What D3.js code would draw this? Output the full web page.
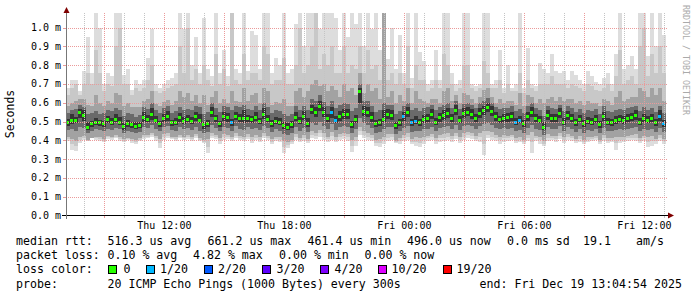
<!DOCTYPE html>
<html>
<head>
<meta charset="utf-8">
<script src="https://cdn.jsdelivr.net/npm/d3@7"></script>
<style>
  body { margin: 0; background: #fff; }
  svg { display: block; }
  text { font-family: "DejaVu Sans Mono", monospace; fill: #000; }
</style>
</head>
<body>
<svg id="chart" width="697" height="297"></svg>
<script>
// smokeping style graph, 30 hours, one column = 12 minutes
// all rtt values in microseconds

const startTime = new Date(2025, 11, 18, 7, 5, 0);
const stepMinutes = 12;

const medianUs = [
  495, 510, 510, 550, 535, 470, 490, 500, 495, 490,
  512, 500, 515, 500, 475, 490, 485, 478, 482, 522,
  512, 540, 510, 490, 518, 528, 495, 500, 525, 505,
  515, 505, 527, 510, 485, 490, 549, 518, 490, 527,
  522, 495, 530, 518, 520, 518, 512, 525, 503, 540,
  515, 490, 505, 500, 480, 473, 485, 525, 505, 530,
  490, 565, 550, 580, 550, 518, 550, 510, 530, 540,
  540, 485, 512, 661, 558, 550, 525, 490, 497, 515,
  540, 535, 482, 498, 527, 550, 495, 505, 495, 512,
  520, 540, 500, 522, 535, 545, 520, 562, 510, 545,
  552, 540, 518, 545, 560, 575, 555, 527, 512, 520,
  522, 527, 500, 510, 490, 527, 549, 520, 510, 473,
  535, 520, 518, 545, 500, 535, 520, 495, 515, 490,
  505, 500, 513, 485, 527, 500, 497, 509, 515, 509,
  520, 525, 535, 500, 520, 510, 518, 495, 530, 490
];

// columns where 1 of 20 pings was lost, all others 0
const lossCols = [41, 66, 67, 84, 86, 87, 112, 113, 148, 149];

// smoke bands, from outer (min..max) to the pings next to the median
const smokeMax = [
  680, 720, 720, 660, 770, 950, 760, 1100, 1000, 700,
  760, 740, 1100, 1100, 750, 780, 670, 720, 700, 720,
  840, 990, 700, 680, 700, 720, 730, 760, 1100, 990,
  1100, 800, 950, 760, 1050, 780, 740, 1100, 760, 880,
  740, 1100, 780, 760, 1100, 770, 980, 960, 780, 1100,
  1100, 760, 840, 800, 1100, 760, 780, 1020, 1100, 900,
  1080, 1100, 1100, 990, 1100, 1080, 1080, 1050, 880, 1100,
  950, 1080, 1020, 1100, 900, 1100, 990, 1100, 880, 1100,
  830, 1000, 780, 960, 760, 1100, 730, 1100, 870, 820,
  700, 720, 880, 720, 1100, 1100, 760, 700, 720, 1100,
  1100, 700, 690, 700, 1100, 1080, 700, 720, 880, 680,
  800, 680, 700, 1100, 680, 890, 700, 690, 810, 780,
  760, 860, 770, 760, 770, 720, 770, 750, 720, 700,
  770, 740, 710, 700, 730, 760, 700, 860, 1100, 780,
  800, 850, 780, 1100, 1100, 850, 1100, 900, 1100, 960
];
const smokeMin = [
  395, 350, 345, 385, 400, 395, 410, 400, 395, 390,
  405, 400, 410, 395, 390, 400, 385, 380, 395, 405,
  410, 420, 395, 360, 400, 410, 405, 395, 410, 400,
  405, 395, 410, 395, 385, 330, 410, 405, 380, 400,
  405, 395, 410, 400, 395, 405, 385, 400, 390, 410,
  400, 380, 395, 390, 335, 360, 380, 400, 390, 395,
  385, 410, 405, 420, 400, 390, 400, 390, 400, 405,
  395, 340, 370, 430, 410, 400, 395, 370, 365, 380,
  395, 400, 385, 380, 395, 400, 380, 370, 365, 380,
  395, 400, 380, 390, 395, 400, 390, 405, 385, 400,
  410, 405, 395, 390, 320, 410, 400, 395, 380, 390,
  395, 400, 385, 390, 380, 395, 335, 395, 380, 370,
  395, 400, 390, 405, 385, 400, 395, 385, 390, 380,
  390, 395, 400, 380, 395, 385, 390, 350, 385, 390,
  395, 400, 395, 385, 395, 365, 370, 380, 395, 380
];
const smokeOuterHi = [
  640, 680, 700, 640, 700, 760, 700, 880, 760, 660,
  700, 690, 900, 1000, 700, 700, 640, 680, 660, 680,
  720, 800, 660, 650, 660, 680, 690, 700, 900, 760,
  1000, 720, 780, 700, 800, 720, 690, 860, 700, 780,
  690, 1100, 720, 700, 860, 720, 760, 760, 720, 900,
  860, 700, 720, 720, 840, 700, 700, 800, 1000, 760,
  800, 900, 1100, 780, 860, 800, 900, 760, 760, 900,
  760, 800, 780, 900, 760, 880, 780, 800, 720, 1100,
  720, 760, 700, 760, 700, 900, 680, 800, 720, 720,
  660, 680, 720, 680, 860, 800, 700, 660, 680, 800,
  800, 680, 660, 680, 820, 760, 680, 680, 720, 650,
  700, 660, 660, 760, 650, 720, 680, 660, 700, 700,
  700, 740, 700, 700, 700, 680, 700, 690, 680, 660,
  700, 690, 670, 660, 680, 700, 660, 740, 880, 700,
  720, 740, 700, 900, 1000, 740, 860, 760, 900, 760
];
const smokeOuterLo = [
  405, 380, 372, 402, 412, 398, 410, 410, 405, 398,
  415, 410, 420, 408, 398, 406, 396, 390, 402, 418,
  420, 430, 410, 385, 416, 425, 412, 405, 420, 410,
  418, 406, 422, 402, 392, 365, 425, 416, 396, 416,
  418, 405, 425, 412, 406, 418, 402, 414, 404, 425,
  412, 392, 408, 402, 365, 375, 392, 416, 402, 412,
  396, 430, 422, 438, 420, 405, 422, 404, 416, 422,
  415, 370, 395, 450, 430, 420, 412, 385, 385, 400,
  414, 416, 392, 395, 412, 420, 392, 392, 388, 400,
  410, 418, 396, 410, 414, 420, 408, 422, 400, 420,
  428, 422, 408, 415, 380, 430, 420, 412, 400, 410,
  410, 415, 398, 404, 390, 412, 390, 410, 400, 382,
  414, 412, 406, 422, 400, 416, 410, 396, 406, 390,
  404, 405, 410, 392, 412, 398, 400, 384, 402, 404,
  410, 414, 414, 398, 410, 392, 396, 394, 412, 394
];
const smokeMidHi = [
  580, 600, 610, 620, 620, 590, 585, 640, 600, 580,
  610, 600, 650, 640, 580, 600, 575, 575, 575, 610,
  620, 660, 595, 580, 605, 615, 590, 610, 660, 630,
  650, 610, 640, 600, 640, 590, 630, 660, 600, 620,
  600, 660, 610, 605, 680, 610, 640, 650, 600, 680,
  660, 590, 605, 600, 620, 580, 585, 660, 680, 630,
  660, 700, 720, 690, 700, 660, 690, 670, 630, 700,
  660, 680, 640, 760, 650, 700, 660, 680, 620, 1100,
  630, 660, 600, 640, 610, 680, 600, 660, 620, 610,
  600, 620, 620, 600, 660, 680, 610, 640, 600, 650,
  640, 620, 600, 630, 670, 680, 630, 600, 620, 600,
  610, 610, 590, 650, 580, 640, 630, 600, 620, 600,
  620, 630, 610, 630, 610, 620, 620, 600, 610, 590,
  610, 600, 600, 580, 620, 610, 590, 630, 660, 610,
  620, 630, 630, 680, 660, 630, 680, 640, 680, 610
];
const smokeMidLo = [
  415, 405, 395, 420, 425, 400, 410, 420, 415, 405,
  425, 418, 430, 420, 405, 412, 408, 400, 410, 430,
  428, 440, 422, 408, 432, 438, 420, 415, 430, 420,
  430, 418, 432, 410, 400, 405, 440, 428, 412, 432,
  430, 415, 438, 425, 418, 432, 420, 428, 418, 440,
  425, 405, 420, 415, 395, 390, 402, 432, 412, 430,
  408, 450, 440, 455, 440, 420, 445, 418, 432, 438,
  435, 400, 420, 470, 450, 440, 430, 400, 405, 420,
  432, 432, 398, 410, 428, 440, 405, 415, 410, 420,
  425, 435, 412, 428, 432, 440, 425, 440, 415, 438,
  445, 440, 422, 440, 448, 452, 442, 428, 420, 428,
  425, 430, 412, 418, 400, 430, 442, 425, 418, 395,
  432, 425, 422, 438, 415, 432, 425, 408, 422, 402,
  418, 415, 422, 402, 428, 412, 410, 418, 420, 418,
  425, 428, 432, 412, 425, 418, 422, 408, 430, 408
];
const smokeCoreHi = [
  545, 560, 565, 590, 575, 540, 545, 555, 540, 545,
  560, 555, 570, 560, 530, 545, 540, 525, 535, 575,
  565, 600, 560, 545, 570, 585, 545, 555, 575, 560,
  565, 560, 585, 575, 540, 550, 600, 570, 550, 580,
  575, 560, 580, 575, 590, 565, 560, 585, 560, 600,
  575, 545, 560, 555, 540, 530, 540, 580, 560, 585,
  560, 620, 610, 640, 605, 580, 610, 570, 590, 600,
  595, 555, 570, 700, 610, 610, 580, 550, 560, 600,
  590, 590, 540, 555, 580, 600, 560, 570, 555, 570,
  575, 590, 560, 575, 590, 600, 570, 610, 565, 595,
  600, 590, 570, 600, 610, 625, 600, 575, 565, 570,
  570, 580, 555, 565, 545, 580, 600, 570, 560, 530,
  585, 570, 565, 590, 555, 580, 570, 550, 565, 545,
  560, 555, 565, 540, 580, 555, 550, 560, 565, 560,
  570, 575, 585, 555, 575, 560, 570, 550, 585, 545
];
const smokeCoreLo = [
  455, 460, 448, 470, 465, 440, 452, 458, 455, 450,
  462, 455, 468, 458, 440, 450, 446, 440, 445, 470,
  465, 480, 462, 448, 470, 475, 455, 452, 470, 460,
  468, 455, 472, 450, 440, 445, 480, 465, 450, 470,
  468, 452, 475, 462, 455, 470, 458, 466, 455, 478,
  465, 445, 458, 452, 435, 430, 440, 470, 450, 468,
  445, 490, 480, 495, 478, 460, 485, 455, 470, 475,
  472, 440, 458, 520, 490, 480, 468, 440, 445, 458,
  470, 470, 435, 448, 465, 478, 445, 452, 450, 458,
  462, 472, 450, 465, 470, 475, 462, 480, 455, 475,
  482, 475, 460, 478, 485, 490, 480, 465, 458, 465,
  462, 468, 450, 455, 440, 468, 480, 462, 455, 430,
  470, 462, 460, 475, 452, 470, 462, 445, 460, 440,
  455, 452, 460, 440, 465, 450, 448, 455, 460, 455,
  462, 465, 470, 450, 462, 455, 460, 445, 468, 445
];
const smokeInnerHi = [
  515, 540, 525, 565, 560, 500, 505, 520, 510, 505,
  530, 520, 540, 525, 490, 510, 500, 495, 500, 550,
  535, 570, 530, 505, 540, 555, 510, 520, 545, 525,
  535, 525, 550, 540, 500, 510, 575, 535, 505, 550,
  545, 515, 550, 540, 560, 535, 530, 550, 520, 570,
  535, 510, 525, 520, 500, 490, 505, 550, 525, 555,
  520, 590, 575, 610, 575, 540, 575, 530, 555, 565,
  565, 505, 535, 680, 585, 575, 550, 510, 515, 560,
  565, 560, 500, 515, 550, 575, 515, 530, 515, 535,
  540, 565, 520, 545, 560, 570, 540, 590, 530, 570,
  575, 565, 540, 570, 585, 600, 580, 550, 530, 540,
  545, 550, 520, 530, 510, 550, 575, 540, 530, 495,
  560, 540, 540, 570, 520, 555, 540, 515, 535, 510,
  525, 520, 535, 505, 550, 520, 515, 530, 535, 530,
  540, 545, 560, 520, 540, 530, 540, 515, 560, 510
];
const smokeInnerLo = [
  478, 485, 490, 520, 505, 455, 470, 480, 475, 472,
  490, 480, 495, 482, 455, 470, 465, 462, 465, 500,
  495, 510, 490, 470, 500, 505, 475, 480, 500, 485,
  495, 485, 505, 490, 462, 470, 525, 500, 470, 505,
  500, 475, 510, 495, 490, 500, 490, 505, 485, 515,
  495, 470, 485, 480, 460, 455, 465, 505, 485, 510,
  470, 540, 525, 555, 525, 495, 520, 490, 505, 515,
  515, 465, 490, 600, 530, 525, 500, 470, 478, 495,
  515, 510, 462, 478, 505, 525, 475, 485, 475, 490,
  500, 515, 480, 500, 510, 520, 500, 535, 490, 520,
  530, 515, 495, 520, 535, 550, 530, 505, 490, 500,
  500, 505, 480, 490, 470, 505, 525, 500, 490, 455,
  510, 500, 495, 520, 480, 510, 500, 475, 495, 470,
  485, 480, 490, 465, 505, 480, 477, 488, 495, 488,
  500, 505, 510, 480, 500, 490, 495, 475, 505, 470
];

const yTicks = [0, 0.1, 0.2, 0.3, 0.4, 0.5, 0.6, 0.7, 0.8, 0.9, 1.0];

const lossLabels = ["0", "1/20", "2/20", "3/20", "4/20", "10/20", "19/20"];
const lossColors = ["#26ff00", "#00b8ff", "#0059ff", "#5e00ff", "#7e00ff", "#dd00ff", "#ff0000"];

const legendRtt = ["516.3 us avg", "661.2 us max", "461.4 us min", "496.0 us now", "0.0 ms sd", "19.1", "am/s"];
const legendLoss = ["0.10 % avg", "4.82 % max", "0.00 % min", "0.00 % now"];
const probeText = "20 ICMP Echo Pings (1000 Bytes) every 300s";
const endText = "end: Fri Dec 19 13:04:54 2025";

// ---------------------------------------------------------------

const svg = d3.select("#chart");
const plot = { left: 66, right: 666, top: 13, bottom: 215 };

const times = d3.range(medianUs.length + 1)
  .map(i => d3.timeMinute.offset(startTime, i * stepMinutes));

const x = d3.scaleTime()
  .domain([times[0], times[times.length - 1]])
  .range([plot.left, plot.right]);

// axis is in milliseconds
const y = d3.scaleLinear().domain([0, 1]).range([215.5, 27.5]);
const yus = v => y(v / 1000);

svg.append("rect").attr("width", 697).attr("height", 297).attr("fill", "#fff");

svg.append("clipPath").attr("id", "plotclip")
  .append("rect")
  .attr("x", plot.left).attr("y", plot.top)
  .attr("width", plot.right - plot.left + 1)
  .attr("height", plot.bottom - plot.top);

const smoke = svg.append("g")
  .attr("clip-path", "url(#plotclip)")
  .attr("shape-rendering", "crispEdges");

const cols = medianUs.map((_, i) => i);
const colX = i => Math.round(x(times[i]));
const colW = i => Math.round(x(times[i + 1])) - Math.round(x(times[i]));

function band(hi, lo, color) {
  smoke.append("g").selectAll("rect")
    .data(cols)
    .join("rect")
    .attr("x", colX)
    .attr("width", colW)
    .attr("y", i => Math.round(yus(hi[i])))
    .attr("height", i => Math.max(1, Math.round(yus(lo[i])) - Math.round(yus(hi[i]))))
    .attr("fill", color);
}

band(smokeMax, smokeMin, "#dddddd");
band(smokeOuterHi, smokeOuterLo, "#c8c8c8");
band(smokeMidHi, smokeMidLo, "#a2a2a2");
band(smokeCoreHi, smokeCoreLo, "#6a6a6a");
band(smokeInnerHi, smokeInnerLo, "#353535");

// median, coloured by loss
smoke.append("g").selectAll("rect")
  .data(cols)
  .join("rect")
  .attr("x", colX)
  .attr("width", i => colW(i) - 1)
  .attr("y", i => Math.round(yus(medianUs[i])) - 1)
  .attr("height", 3)
  .attr("fill", i => lossCols.includes(i) ? lossColors[1] : lossColors[0]);

// grid
const grid = svg.append("g").attr("shape-rendering", "crispEdges");
const red = "#eb9a9a", gray = "#c4c4c4";

const hours = d3.timeHour.every(1).range(times[0], times[times.length - 1]);
hours.forEach(h => {
  const col = h.getHours() % 3 === 0 ? red : gray;
  const xx = Math.round(x(h)) + 0.5;
  grid.append("line")
    .attr("x1", xx).attr("x2", xx).attr("y1", plot.top).attr("y2", plot.bottom)
    .attr("stroke", col).attr("stroke-dasharray", "1,1");
  grid.append("line")
    .attr("x1", xx).attr("x2", xx).attr("y1", plot.bottom).attr("y2", plot.bottom + 3)
    .attr("stroke", col);
});

yTicks.slice(1).forEach(v => {
  const yy = Math.round(y(v)) + 0.5;
  grid.append("line")
    .attr("x1", plot.left).attr("x2", plot.right + 2).attr("y1", yy).attr("y2", yy)
    .attr("stroke", red).attr("stroke-dasharray", "1,1");
  grid.append("line")
    .attr("x1", plot.left - 3).attr("x2", plot.left).attr("y1", yy).attr("y2", yy)
    .attr("stroke", red);
});

// axes
svg.append("line")
  .attr("x1", plot.left - 4).attr("x2", plot.right + 4)
  .attr("y1", 215.5).attr("y2", 215.5)
  .attr("stroke", "#000").attr("shape-rendering", "crispEdges");
svg.append("line")
  .attr("x1", 66.5).attr("x2", 66.5)
  .attr("y1", 219).attr("y2", 11)
  .attr("stroke", "#777").attr("shape-rendering", "crispEdges");
svg.append("path").attr("d", "M668,212.5 L674,215.5 L668,218.5 Z").attr("fill", "#7f0000");
svg.append("path").attr("d", "M63.5,13 L66.5,7 L69.5,13 Z").attr("fill", "#7f0000");

// y labels
svg.append("g").selectAll("text")
  .data(yTicks)
  .join("text")
  .attr("x", 61)
  .attr("y", v => y(v) + 3.5)
  .attr("text-anchor", "end")
  .style("font-size", "10px")
  .text(v => v.toFixed(1) + " m");

// x labels
const fmt = d3.timeFormat("%a %H:%M");
svg.append("g").selectAll("text")
  .data(d3.timeHour.every(6).range(times[0], times[times.length - 1]))
  .join("text")
  .attr("x", d => x(d))
  .attr("y", 229)
  .attr("text-anchor", "middle")
  .style("font-size", "10px")
  .text(d => fmt(d));

svg.append("text")
  .attr("transform", "translate(14,114) rotate(-90)")
  .attr("text-anchor", "middle")
  .style("font-size", "11.5px")
  .text("Seconds");

svg.append("text")
  .attr("transform", "translate(683,5) rotate(90)")
  .style("font-size", "8.3px")
  .style("fill", "#aaaaaa")
  .text("RRDTOOL / TOBI OETIKER");

// legend
const lg = svg.append("g").style("font-size", "11.6px").attr("xml:space", "preserve");
const put = (xx, yy, t) => lg.append("text").attr("x", xx).attr("y", yy).text(t);

const row1 = 245, row2 = 259, row3 = 273, row4 = 288;
put(16, row1, "median rtt:");
[107.5, 207.5, 307.5, 407, 507, 583, 636].forEach((xx, i) => put(xx, row1, legendRtt[i]));

put(16, row2, "packet loss:");
[107.5, 193, 279, 364.5].forEach((xx, i) => put(xx, row2, legendLoss[i]));

put(16, row3, "loss color:");
const boxX = [108, 145.5, 204, 262, 320, 378, 443];
const labX = [123.5, 160, 218, 276.5, 334.5, 391.5, 456.5];
lossLabels.forEach((l, i) => {
  lg.append("rect")
    .attr("x", boxX[i] + 0.5).attr("y", 265.5).attr("width", 8).attr("height", 8)
    .attr("fill", lossColors[i]).attr("stroke", "#000").attr("shape-rendering", "crispEdges");
  put(labX[i], row3, l);
});

put(16, row4, "probe:");
put(107.5, row4, probeText);
put(479.5, row4, endText);
</script>
</body>
</html>
